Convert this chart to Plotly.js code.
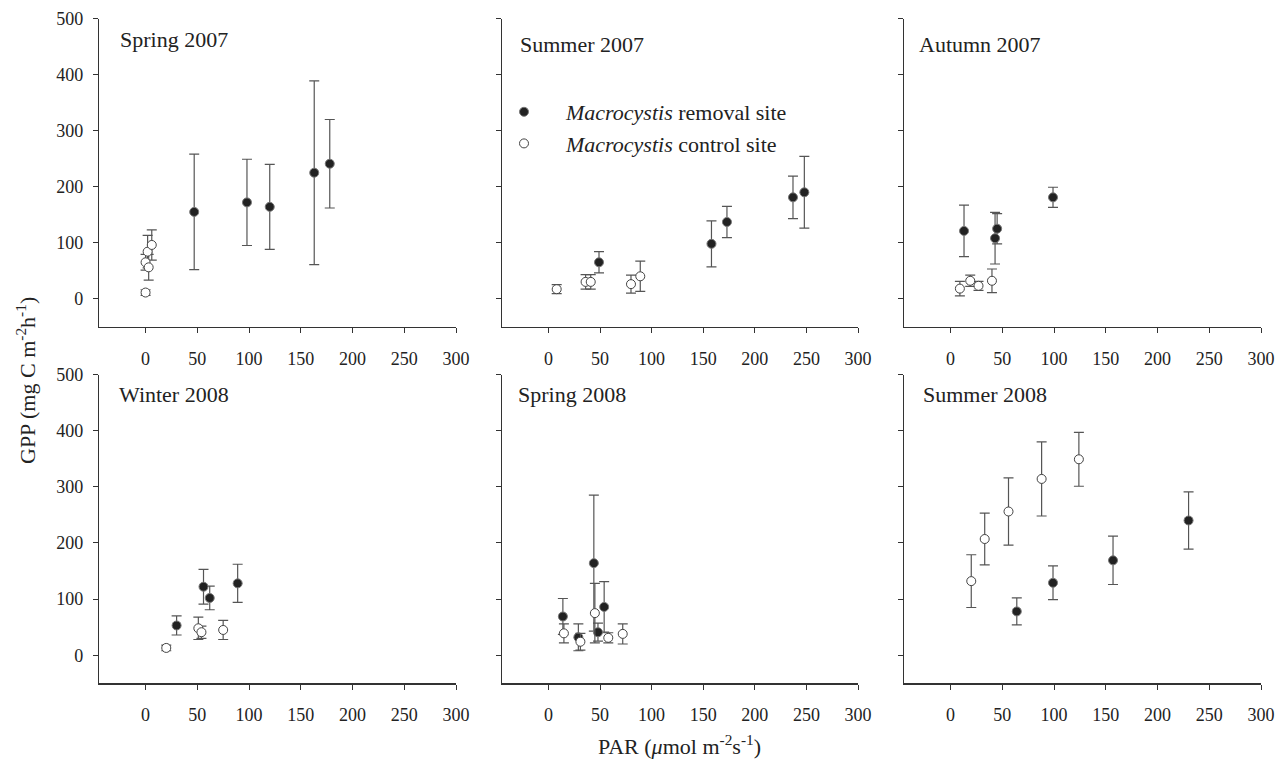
<!DOCTYPE html>
<html>
<head>
<meta charset="utf-8">
<script src="https://cdn.plot.ly/plotly-3.0.1.min.js"></script>
<style>html,body{margin:0;padding:0;background:#fff;}#chart{width:1286px;height:763px;}</style>
</head>
<body>
<div id="chart"></div>
<script>
// ---- Data ----
const panelTitles = ["Spring 2007", "Summer 2007", "Autumn 2007", "Winter 2008", "Spring 2008", "Summer 2008"];
const seriesNames = ["<i>Macrocystis</i> removal site", "<i>Macrocystis</i> control site"];

const spring07RemX = [47, 98, 120, 163, 178];
const spring07RemY = [155, 172, 164, 225, 241];
const spring07RemE = [103, 77, 76, 164, 79];
const spring07CtlX = [0, 2, 0, 3, 6];
const spring07CtlY = [11, 84, 65, 56, 96];
const spring07CtlE = [5, 29, 14, 23, 27];

const summer07RemX = [49, 158, 173, 237, 248];
const summer07RemY = [65, 98, 137, 181, 190];
const summer07RemE = [19, 41, 28, 38, 64];
const summer07CtlX = [8, 36, 41, 80, 89];
const summer07CtlY = [17, 30, 30, 26, 40];
const summer07CtlE = [8, 13, 13, 16, 27];

const autumn07RemX = [13, 43, 45, 99];
const autumn07RemY = [121, 108, 125, 181];
const autumn07RemE = [46, 46, 27, 18];
const autumn07CtlX = [9, 19, 27, 40];
const autumn07CtlY = [18, 32, 23, 32];
const autumn07CtlE = [13, 10, 8, 21];

const winter08RemX = [30, 56, 62, 89];
const winter08RemY = [53, 122, 102, 128];
const winter08RemE = [17, 31, 21, 34];
const winter08CtlX = [20, 51, 54, 75];
const winter08CtlY = [13, 48, 41, 45];
const winter08CtlE = [5, 20, 11, 17];

const spring08RemX = [14, 29, 44, 48, 54];
const spring08RemY = [69, 32, 164, 41, 86];
const spring08RemE = [32, 24, 121, 16, 45];
const spring08CtlX = [15, 31, 45, 58, 72];
const spring08CtlY = [39, 24, 75, 31, 38];
const spring08CtlE = [17, 15, 53, 9, 18];

const summer08RemX = [64, 99, 157, 230];
const summer08RemY = [78, 129, 169, 240];
const summer08RemE = [24, 30, 43, 51];
const summer08CtlX = [20, 33, 56, 88, 124];
const summer08CtlY = [132, 207, 256, 314, 349];
const summer08CtlE = [47, 46, 60, 66, 48];

const xTicks = [0, 50, 100, 150, 200, 250, 300];
const yTicks = [0, 100, 200, 300, 400, 500];

// ---- Build ----
const panels = [
  [spring07RemX, spring07RemY, spring07RemE, spring07CtlX, spring07CtlY, spring07CtlE],
  [summer07RemX, summer07RemY, summer07RemE, summer07CtlX, summer07CtlY, summer07CtlE],
  [autumn07RemX, autumn07RemY, autumn07RemE, autumn07CtlX, autumn07CtlY, autumn07CtlE],
  [winter08RemX, winter08RemY, winter08RemE, winter08CtlX, winter08CtlY, winter08CtlE],
  [spring08RemX, spring08RemY, spring08RemE, spring08CtlX, spring08CtlY, spring08CtlE],
  [summer08RemX, summer08RemY, summer08RemE, summer08CtlX, summer08CtlY, summer08CtlE]
];

const W = 1286, H = 763;
const colPx = [[99, 456], [502, 858], [904, 1261]];
const rowPx = [[18.7, 326.7], [374.5, 683.3]];
const FONT = "Liberation Serif, Times New Roman, serif";

const traces = [];
const layout = {
  width: W, height: H,
  margin: {l: 0, r: 0, t: 0, b: 0},
  paper_bgcolor: "#fff", plot_bgcolor: "#fff",
  font: {family: FONT, size: 18, color: "#222"},
  showlegend: true,
  legend: {
    x: 504 / W, y: 1 - 91 / H, xanchor: "left", yanchor: "top",
    bgcolor: "rgba(0,0,0,0)", borderwidth: 0,
    font: {family: FONT, size: 22, color: "#222"},
    tracegroupgap: 0
  },
  annotations: []
};

const errStyle = {type: "data", symmetric: true, color: "#555", thickness: 1.2, width: 5};

panels.forEach((p, i) => {
  const n = i + 1;
  const xa = "x" + (n === 1 ? "" : n), ya = "y" + (n === 1 ? "" : n);
  const col = i % 3, row = Math.floor(i / 3);
  traces.push({
    type: "scatter", mode: "markers", x: p[0], y: p[1], xaxis: xa, yaxis: ya,
    name: "&nbsp;&nbsp;&nbsp;&nbsp;" + seriesNames[0], showlegend: i === 0, legendgroup: "rem",
    error_y: Object.assign({array: p[2]}, errStyle),
    marker: {size: 9, color: "#222", line: {color: "#777", width: 1}}
  });
  traces.push({
    type: "scatter", mode: "markers", x: p[3], y: p[4], xaxis: xa, yaxis: ya,
    name: "&nbsp;&nbsp;&nbsp;&nbsp;" + seriesNames[1], showlegend: i === 0, legendgroup: "ctl",
    error_y: Object.assign({array: p[5]}, errStyle),
    marker: {size: 9, color: "#fff", line: {color: "#444", width: 1}}
  });
  const axCommon = {
    showgrid: false, zeroline: false, showline: true, linecolor: "#333", linewidth: 1.2,
    ticks: "outside", ticklen: 5, tickcolor: "#333", tickwidth: 1,
    tickfont: {family: FONT, size: 18, color: "#222"}, fixedrange: true
  };
  layout["xaxis" + (n === 1 ? "" : n)] = Object.assign({}, axCommon, {
    domain: [colPx[col][0] / W, colPx[col][1] / W],
    anchor: ya, range: [-45, 300], tickvals: xTicks, ticktext: xTicks.map(String),
    ticklabelstandoff: 10
  });
  layout["yaxis" + (n === 1 ? "" : n)] = Object.assign({}, axCommon, {
    domain: [1 - rowPx[row][1] / H, 1 - rowPx[row][0] / H],
    anchor: xa, range: [-50, 500], tickvals: yTicks, ticktext: yTicks.map(String),
    showticklabels: col === 0, ticklabelstandoff: 6
  });
});

const titlePos = [[118, 40], [518, 44], [917, 44], [117, 394], [516, 394], [921, 394]];
panelTitles.forEach((t, i) => {
  layout.annotations.push({
    text: t, xref: "paper", yref: "paper", x: titlePos[i][0] / W, y: 1 - titlePos[i][1] / H,
    xanchor: "left", yanchor: "middle", showarrow: false,
    font: {family: FONT, size: 22, color: "#222"}
  });
});
layout.annotations.push({
  text: "GPP (mg C m<sup>-2</sup>h<sup>-1</sup>)", xref: "paper", yref: "paper",
  x: 26 / W, y: 1 - 381 / H, xanchor: "center", yanchor: "middle", textangle: -90,
  showarrow: false, font: {family: FONT, size: 22, color: "#222"}
});
layout.annotations.push({
  text: "PAR (<i>μ</i>mol m<sup>-2</sup>s<sup>-1</sup>)", xref: "paper", yref: "paper",
  x: 680 / W, y: 1 - 745 / H, xanchor: "center", yanchor: "middle",
  showarrow: false, font: {family: FONT, size: 22, color: "#222"}
});

Plotly.newPlot("chart", traces, layout, {staticPlot: true, displayModeBar: false});
</script>
</body>
</html>
